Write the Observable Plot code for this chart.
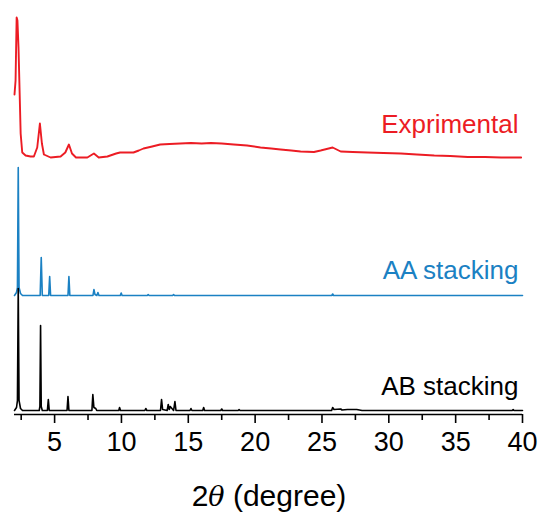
<!DOCTYPE html>
<html>
<head>
<meta charset="utf-8">
<script src="https://cdn.jsdelivr.net/npm/d3@7"></script>
<script src="https://cdn.jsdelivr.net/npm/@observablehq/plot@0.6"></script>
<style>
  body { margin: 0; background: #fff; }
  #chart svg { display: block; }
</style>
</head>
<body>
<div id="chart"></div>
<script>
// ---------- data (2θ in degrees, intensity in arbitrary units above each trace's own baseline) ----------
const expTheta = [2.0, 2.08, 2.16, 2.22, 2.3, 2.46, 2.58, 2.83, 3.2, 3.45, 3.7, 3.9, 4.05, 4.2, 4.7, 5.45, 5.8, 6.07, 6.3, 6.6, 7.45, 7.94, 8.3, 8.95, 9.6, 9.9, 10.2, 10.9, 11.3, 11.65, 12.3, 12.9, 13.6, 14.4, 15.2, 16.0, 16.7, 17.5, 18.4, 19.4, 20.4, 21.2, 21.9, 22.7, 23.4, 24.4, 24.9, 25.8, 26.4, 27.3, 28.4, 29.6, 30.9, 32.1, 33.4, 34.6, 35.9, 37.2, 38.4, 39.9];
const expIntensity = [63, 77, 140, 137, 110, 24, 5, 2, 1, 1, 10, 34, 14, 3, 0, 1, 5, 13, 4, 0, 0, 4, 0, 1, 4, 5, 5, 5, 7, 9, 11, 13, 13.5, 14, 14.5, 14, 14.5, 14, 13, 12, 10, 9, 8, 7, 6, 5.5, 7, 10, 6, 5.5, 5, 4.5, 4, 3, 2, 1.5, 0.5, 0.5, 0, 0];

const aaTheta = [2.0, 2.15, 2.22, 2.28, 2.34, 2.45, 2.6, 3.92, 4.0, 4.08, 4.56, 4.63, 4.7, 6.0, 6.07, 6.14, 7.87, 7.94, 8.02, 8.16, 8.24, 8.32, 9.91, 9.98, 10.05, 11.93, 12.0, 12.07, 13.83, 13.9, 13.97, 25.73, 25.8, 25.87, 40.0];
const aaIntensity = [0, 3, 8, 128, 8, 2, 0, 0, 38, 0, 0, 19, 0, 0, 19, 0, 0, 6, 1, 0, 3, 0, 0, 2.5, 0, 0, 1, 0, 0, 1, 0, 0, 1.5, 0, 0];

const abTheta = [2.0, 2.15, 2.22, 2.28, 2.34, 2.45, 2.6, 3.85, 3.9, 3.95, 4.0, 4.08, 4.46, 4.53, 4.6, 5.93, 6.0, 6.07, 7.79, 7.86, 7.94, 8.08, 8.15, 9.8, 9.86, 9.93, 11.75, 11.82, 11.9, 12.92, 13.0, 13.08, 13.42, 13.5, 13.58, 13.65, 13.9, 14.0, 14.08, 15.13, 15.2, 15.27, 16.08, 16.15, 16.22, 17.43, 17.5, 17.57, 18.73, 18.8, 18.87, 25.72, 25.8, 25.9, 26.4, 26.5, 26.9, 27.6, 28.0, 39.23, 39.3, 39.37, 40.0];
const abIntensity = [0, 3, 10, 122, 10, 2, 0, 0, 4, 85, 4, 0, 0, 11, 0, 0, 14, 0, 0, 16, 3, 2, 0, 0, 3, 0, 0, 2, 0, 0, 11, 1, 0, 6, 1, 4, 0, 9, 0, 0, 2, 0, 0, 3, 0, 0, 1.5, 0, 0, 1, 0, 0, 3, 1, 1.5, 0.5, 1, 1, 0, 0, 1, 0, 0];

const seriesNames = ["Exprimental", "AA stacking", "AB stacking"];
const seriesOffsets = [257, 119, 4];
const seriesColors = ["#ec1c24", "#1b81c3", "#000000"];

const majorTicks = [5, 10, 15, 20, 25, 30, 35, 40];
const minorTicks = [2.5, 7.5, 12.5, 17.5, 22.5, 27.5, 32.5, 37.5];

// ---------- build tables ----------
const thetas = [expTheta, aaTheta, abTheta];
const intens = [expIntensity, aaIntensity, abIntensity];
const traces = seriesNames.map((name, i) =>
  thetas[i].map((t, j) => ({ series: name, theta: t, y: intens[i][j] + seriesOffsets[i] }))
);
const labelRows = seriesNames.map((name, i) => ({ name, y: seriesOffsets[i] + [33, 25, 24][i] }));

const font = "Arial, 'Liberation Sans', sans-serif";

const plot = Plot.plot({
  width: 541,
  height: 514,
  marginLeft: 14,
  marginRight: 19,
  marginTop: 14,
  marginBottom: 100,
  style: { fontFamily: font, fontSize: "26px", color: "#000", background: "#fff", overflow: "visible" },
  x: { domain: [2, 40], axis: null },
  y: { domain: [0, 400], axis: null },
  marks: [
    ...traces.map((rows, i) => Plot.line(rows, { x: "theta", y: "y", stroke: seriesColors[i], strokeWidth: i === 0 ? 1.9 : 1.6, strokeLinejoin: "round" })),
    Plot.ruleY([0], { stroke: "#000", strokeWidth: 1.6 }),
    Plot.axisX({ ticks: minorTicks, tickSize: 6, text: null, strokeWidth: 1.6, label: null }),
    Plot.axisX({ ticks: majorTicks, tickSize: 9, tickPadding: 8, strokeWidth: 1.6, label: null, fontSize: 27, fill: "#000" }),
    Plot.text(labelRows, { x: 40, y: "y", text: "name", textAnchor: "end", dx: -4, fontSize: 26, fill: (d, i) => seriesColors[i] })
  ]
});

document.getElementById("chart").appendChild(plot);

// axis title with italic theta
const svg = d3.select(plot);
const title = svg.append("text")
  .attr("x", 269)
  .attr("y", 506)
  .attr("text-anchor", "middle")
  .attr("font-family", font)
  .attr("font-size", 30)
  .attr("fill", "#000");
title.append("tspan").text("2");
title.append("tspan").attr("font-style", "italic").attr("font-family", "'DejaVu Serif', serif").attr("font-size", 27).text("θ");
title.append("tspan").text(" (degree)");
</script>
</body>
</html>
